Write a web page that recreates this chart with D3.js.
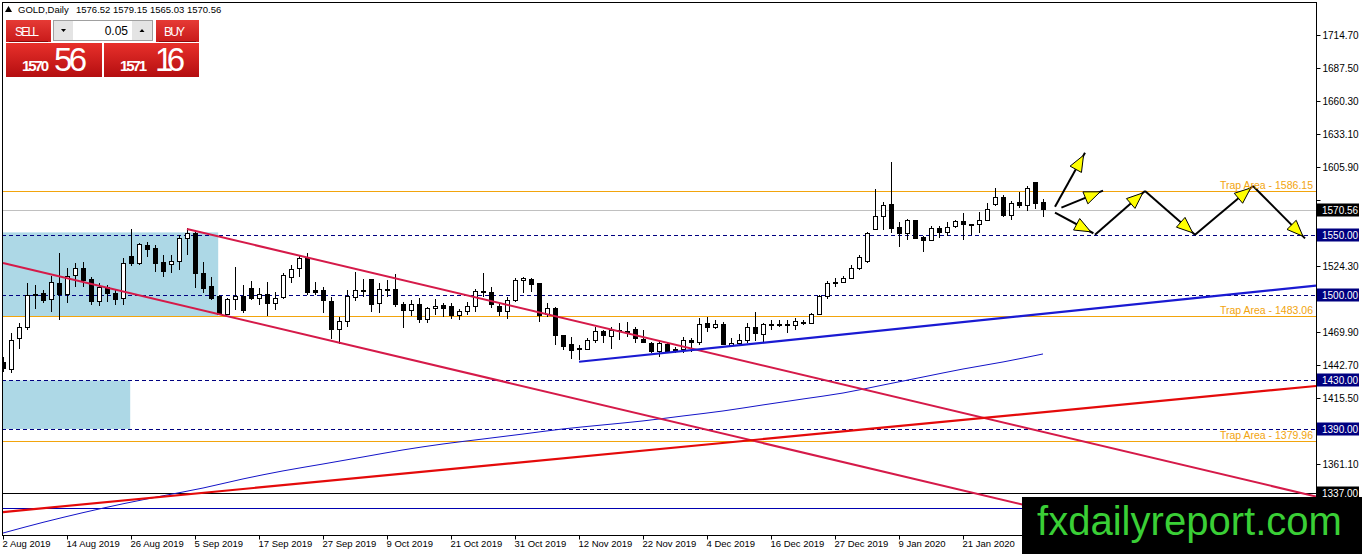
<!DOCTYPE html>
<html>
<head>
<meta charset="utf-8">
<script src="https://cdn.jsdelivr.net/npm/d3@7"></script>
<style>
  body { margin: 0; background: #fff; overflow: hidden; }
</style>
</head>
<body>
<div id="chart"></div>
<script>
// ---- données ----
const dateLabels = ["2 Aug 2019", "14 Aug 2019", "26 Aug 2019", "5 Sep 2019", "17 Sep 2019", "27 Sep 2019",
  "9 Oct 2019", "21 Oct 2019", "31 Oct 2019", "12 Nov 2019", "22 Nov 2019", "4 Dec 2019",
  "16 Dec 2019", "27 Dec 2019", "9 Jan 2020", "21 Jan 2020"]
const dateTicks = [0, 8, 16, 24, 32, 40, 48, 56, 64, 72, 80, 88, 96, 104, 112, 120]

const priceTicks = [1714.70, 1687.50, 1660.30, 1633.10, 1605.90, 1578.70, 1551.50, 1524.30, 1497.10,
  1469.90, 1442.70, 1415.50, 1388.30, 1361.10, 1333.90]

const opens = [1444.6, 1438.6, 1464.7, 1473.7, 1499.6, 1501.8, 1496.9, 1510.1, 1501.2, 1516.1,
  1522.4, 1512.8, 1494.9, 1506.5, 1501.8, 1497.7, 1532.0, 1526.5, 1541.6, 1538.9,
  1527.0, 1525.7, 1527.9, 1547.1, 1551.3, 1518.3, 1507.2, 1499.0, 1484.7, 1496.3,
  1499.0, 1505.9, 1497.7, 1500.4, 1493.5, 1498.5, 1515.0, 1522.4, 1530.7, 1503.7,
  1504.5, 1494.9, 1471.6, 1478.5, 1498.5, 1504.5, 1512.8, 1493.0, 1505.1, 1505.1,
  1492.7, 1487.5, 1492.7, 1480.3, 1489.4, 1491.6, 1491.3, 1483.9, 1486.6, 1491.3,
  1503.2, 1502.6, 1491.3, 1486.6, 1495.7, 1512.0, 1512.8, 1509.5, 1484.7, 1489.4,
  1467.4, 1459.2, 1455.9, 1455.7, 1462.5, 1470.7, 1466.6, 1470.7, 1470.7, 1472.1,
  1463.9, 1460.6, 1453.6, 1459.8, 1455.1, 1455.1, 1462.8, 1461.1, 1476.5, 1473.8,
  1475.7, 1458.6, 1460.6, 1462.8, 1473.8, 1468.0, 1474.9, 1475.7, 1475.7, 1474.9,
  1477.3, 1477.1, 1484.5, 1499.0, 1510.1, 1510.5, 1514.2, 1522.6, 1528.4, 1554.6,
  1565.5, 1574.6, 1556.2, 1551.3, 1561.7, 1547.6, 1545.7, 1555.4, 1551.8, 1556.7,
  1560.8, 1558.1, 1558.1, 1562.2, 1574.6, 1580.9, 1566.3, 1576.5, 1573.8, 1593.0,
  1576.52]
const highs = [1449.0, 1468.8, 1477.1, 1510.5, 1508.7, 1504.5, 1516.1, 1534.8, 1522.4, 1527.1,
  1527.9, 1515.5, 1510.1, 1508.7, 1504.5, 1530.7, 1554.6, 1543.5, 1544.4, 1541.6,
  1533.4, 1533.4, 1549.9, 1555.4, 1554.0, 1527.9, 1515.5, 1500.4, 1497.7, 1523.7,
  1508.7, 1512.0, 1505.9, 1511.4, 1503.2, 1518.3, 1525.1, 1533.4, 1534.8, 1511.4,
  1507.3, 1499.0, 1482.5, 1504.5, 1519.6, 1513.6, 1513.3, 1510.1, 1512.8, 1517.4,
  1494.9, 1496.3, 1497.7, 1490.8, 1496.9, 1494.0, 1493.5, 1488.6, 1494.9, 1505.1,
  1518.3, 1507.3, 1494.0, 1499.0, 1514.2, 1515.5, 1514.2, 1510.1, 1493.5, 1490.8,
  1467.4, 1466.0, 1459.2, 1464.7, 1474.3, 1471.6, 1474.3, 1477.1, 1478.5, 1474.3,
  1471.6, 1461.9, 1463.3, 1460.6, 1457.8, 1465.5, 1464.7, 1481.2, 1482.1, 1479.8,
  1478.5, 1464.7, 1468.3, 1477.7, 1486.6, 1477.7, 1479.4, 1479.8, 1479.8, 1481.2,
  1479.8, 1485.3, 1500.4, 1512.2, 1514.2, 1516.1, 1525.1, 1533.4, 1552.3, 1587.5,
  1577.3, 1610.3, 1560.8, 1562.8, 1562.2, 1549.0, 1557.3, 1557.3, 1560.8, 1562.2,
  1568.2, 1558.9, 1569.1, 1576.0, 1588.3, 1582.8, 1578.1, 1585.6, 1590.3, 1593.8,
  1579.15]
const lows = [1437.0, 1435.9, 1455.6, 1471.6, 1488.6, 1493.5, 1486.6, 1479.8, 1493.5, 1507.2,
  1507.2, 1492.2, 1491.3, 1494.9, 1492.2, 1492.2, 1524.3, 1525.1, 1532.0, 1519.6,
  1515.5, 1518.3, 1521.0, 1533.4, 1506.0, 1501.8, 1496.3, 1483.9, 1483.9, 1488.0,
  1485.3, 1496.3, 1492.2, 1483.1, 1488.0, 1496.9, 1510.5, 1515.5, 1500.4, 1500.4,
  1485.8, 1463.9, 1460.0, 1473.7, 1495.7, 1498.5, 1486.6, 1485.8, 1499.0, 1490.8,
  1472.9, 1483.1, 1477.1, 1477.1, 1483.9, 1482.5, 1480.3, 1479.8, 1483.9, 1486.6,
  1499.0, 1489.4, 1483.1, 1480.3, 1494.9, 1502.4, 1503.2, 1478.5, 1482.5, 1459.2,
  1455.1, 1447.4, 1446.8, 1455.1, 1461.1, 1461.1, 1455.7, 1463.3, 1466.0, 1460.5,
  1460.5, 1452.8, 1449.0, 1452.3, 1452.8, 1452.3, 1453.6, 1459.2, 1470.2, 1472.1,
  1459.2, 1457.8, 1459.2, 1461.1, 1462.5, 1461.1, 1471.6, 1473.8, 1469.3, 1471.6,
  1475.7, 1476.5, 1483.9, 1496.9, 1506.8, 1510.1, 1513.3, 1521.0, 1526.8, 1554.0,
  1554.0, 1551.3, 1539.7, 1545.7, 1546.3, 1536.1, 1545.2, 1547.1, 1549.0, 1555.4,
  1545.7, 1549.9, 1551.3, 1561.7, 1573.8, 1565.0, 1562.2, 1571.9, 1569.9, 1571.0,
  1565.03]
const closes = [1440.0, 1462.7, 1473.7, 1499.6, 1500.5, 1495.7, 1510.9, 1501.0, 1515.5, 1522.4,
  1512.0, 1494.9, 1506.8, 1501.8, 1496.9, 1526.0, 1526.5, 1542.2, 1538.1, 1526.5,
  1519.6, 1528.4, 1547.1, 1551.3, 1518.3, 1506.0, 1497.7, 1484.7, 1496.3, 1499.0,
  1487.5, 1497.7, 1500.4, 1493.5, 1497.7, 1516.1, 1521.6, 1530.7, 1502.4, 1502.4,
  1495.7, 1471.6, 1478.5, 1499.0, 1504.0, 1503.2, 1492.7, 1505.1, 1504.5, 1492.2,
  1488.0, 1492.7, 1480.3, 1489.4, 1491.3, 1489.4, 1483.9, 1487.2, 1491.3, 1503.2,
  1502.6, 1492.2, 1486.6, 1495.7, 1512.2, 1514.2, 1508.7, 1483.9, 1489.4, 1467.4,
  1457.8, 1454.6, 1455.1, 1462.5, 1470.7, 1467.4, 1471.0, 1471.2, 1470.2, 1464.7,
  1461.1, 1453.6, 1460.6, 1453.2, 1453.6, 1462.8, 1461.1, 1476.3, 1473.8, 1475.7,
  1459.8, 1460.6, 1463.3, 1473.8, 1468.8, 1475.7, 1475.7, 1475.4, 1474.9, 1478.5,
  1477.6, 1484.5, 1499.0, 1510.1, 1510.3, 1514.2, 1522.4, 1530.9, 1551.3, 1565.5,
  1573.8, 1555.4, 1551.3, 1561.7, 1547.1, 1545.7, 1555.4, 1551.8, 1556.2, 1560.8,
  1558.1, 1557.9, 1562.2, 1571.0, 1580.9, 1566.3, 1576.0, 1573.8, 1588.3, 1576.0,
  1570.56]

// moyenne mobile (fine ligne bleue)
const maBars = [0, 5, 10, 15, 20, 25, 30, 35, 40, 45, 50, 55, 60, 65, 70, 75, 80, 85, 90, 95,
  100, 105, 110, 115, 120, 125, 130]
const maValues = [1304.2, 1313.0, 1321.0, 1328.3, 1334.9, 1341.3, 1348.8, 1355.4, 1361.1, 1366.9,
  1372.7, 1377.6, 1381.7, 1385.8, 1390.0, 1393.3, 1396.6, 1400.7, 1404.8, 1409.8,
  1414.7, 1419.6, 1426.2, 1432.8, 1439.4, 1445.2, 1451.8]

// niveaux horizontaux
const trapLevels = [1586.15, 1483.06, 1379.96]
const trapTexts = ["Trap Area  - 1586.15", "Trap Area - 1483.06", "Trap Area - 1379.96"]
const dashedLevels = [1550.00, 1500.00, 1430.00, 1390.00]
const bidPrice = 1570.56
const blackLevel = 1337.00
const blueLevel = 1325.0

// zones (barre début, barre fin) et (prix haut, prix bas)
const zoneBars = [[-1, 26.9], [-1, 15.9]]
const zonePrices = [[1552.0, 1483.06], [1430.0, 1390.0]]

// lignes de tendance [barre, prix]
const channelUpper = [[23, 1554.8], [164.125, 1334.3]]
const channelLower = [[0, 1526.8], [164.125, 1270.3]]
const redTrend = [[0, 1321.5], [164.125, 1425.4]]
const blueTrend = [[72, 1445.4], [164.125, 1508.1]]

// flèches du scénario
const arrows = [
  [[131.5, 1573.2], [135.25, 1617.7]],
  [[132.3, 1572.4], [137.5, 1586.4]],
  [[131.5, 1568.2], [136.3, 1551.3]],
  [[136.5, 1550.0], [142.75, 1586.15]],
  [[142.75, 1586.15], [149, 1550.0]],
  [[149, 1550.0], [156.25, 1590.2]],
  [[156.25, 1590.2], [162.75, 1547.1]]
]

const header = ["GOLD,Daily", "1576.52 1579.15 1565.03 1570.56"]

// ---- mise en page ----
const W = 1362, H = 554
const plot = {left: 2, top: 2, right: 1316, bottom: 535}
const orange = "#F2A40C"

const x = d3.scaleLinear().domain([0, 164.125]).range([3, plot.right])
const y = d3.scaleLinear().domain([1302.58, 1741.9]).range([plot.bottom, plot.top])

const svg = d3.select("#chart")
  .append("svg")
  .attr("width", W)
  .attr("height", H)
  .style("font-family", '"Liberation Sans", Arial, sans-serif')

svg.append("rect").attr("width", W).attr("height", H).attr("fill", "#fff")

const defs = svg.append("defs")
defs.append("clipPath").attr("id", "plotClip")
  .append("rect")
  .attr("x", plot.left).attr("y", plot.top)
  .attr("width", plot.right - plot.left).attr("height", plot.bottom - plot.top)

const g = svg.append("g").attr("clip-path", "url(#plotClip)")

// zones bleu clair
g.selectAll("rect.zone")
  .data(zoneBars)
  .join("rect")
  .attr("class", "zone")
  .attr("x", d => x(d[0]))
  .attr("width", d => x(d[1]) - x(d[0]))
  .attr("y", (d, i) => y(zonePrices[i][0]))
  .attr("height", (d, i) => y(zonePrices[i][1]) - y(zonePrices[i][0]))
  .attr("fill", "#ADD8E6")

// lignes horizontales
const py = v => Math.round(y(v)) + 0.5

g.selectAll("line.trap")
  .data(trapLevels)
  .join("line")
  .attr("x1", plot.left).attr("x2", plot.right)
  .attr("y1", py).attr("y2", py)
  .attr("stroke", orange).attr("stroke-width", 1)

g.selectAll("line.dash")
  .data(dashedLevels)
  .join("line")
  .attr("x1", plot.left).attr("x2", plot.right)
  .attr("y1", py).attr("y2", py)
  .attr("stroke", "#000080").attr("stroke-width", 1).attr("stroke-dasharray", "4,3")

g.append("line")
  .attr("x1", plot.left).attr("x2", plot.right)
  .attr("y1", py(bidPrice)).attr("y2", py(bidPrice))
  .attr("stroke", "#C0C0C0")

g.append("line")
  .attr("x1", plot.left).attr("x2", plot.right)
  .attr("y1", py(blackLevel)).attr("y2", py(blackLevel))
  .attr("stroke", "#000")

g.append("line")
  .attr("x1", plot.left).attr("x2", plot.right)
  .attr("y1", py(blueLevel)).attr("y2", py(blueLevel))
  .attr("stroke", "#0000B0")

// moyenne mobile
g.append("path")
  .datum(maBars.map((b, i) => [b, maValues[i]]))
  .attr("fill", "none")
  .attr("stroke", "#1414C8")
  .attr("stroke-width", 1)
  .attr("d", d3.line().x(d => x(d[0])).y(d => y(d[1])).curve(d3.curveMonotoneX))

// bougies
const candles = d3.range(opens.length).map(i => ({i: i, o: opens[i], h: highs[i], l: lows[i], c: closes[i]}))

const cg = g.append("g").attr("shape-rendering", "crispEdges")
cg.selectAll("line.wick")
  .data(candles)
  .join("line")
  .attr("x1", d => Math.round(x(d.i)) + 0.5).attr("x2", d => Math.round(x(d.i)) + 0.5)
  .attr("y1", d => y(d.h)).attr("y2", d => y(d.l))
  .attr("stroke", "#000")

cg.selectAll("rect.body")
  .data(candles)
  .join("rect")
  .attr("x", d => Math.round(x(d.i)) - 1.5)
  .attr("width", 4)
  .attr("y", d => y(Math.max(d.o, d.c)))
  .attr("height", d => Math.max(1, Math.abs(y(d.o) - y(d.c))))
  .attr("fill", d => d.c >= d.o ? "#fff" : "#000")
  .attr("stroke", "#000")

// lignes de tendance
const seg = d3.line().x(d => x(d[0])).y(d => y(d[1]))
const trends = [
  {pts: channelUpper, color: "#D51A49", w: 2},
  {pts: channelLower, color: "#D51A49", w: 2},
  {pts: redTrend, color: "#E40A0A", w: 2.2},
  {pts: blueTrend, color: "#1A1AD2", w: 2.2}
]
g.selectAll("path.trend")
  .data(trends)
  .join("path")
  .attr("d", d => seg(d.pts))
  .attr("fill", "none")
  .attr("stroke", d => d.color)
  .attr("stroke-width", d => d.w)

// flèches
arrows.forEach(a => {
  const x1 = x(a[0][0]), y1 = y(a[0][1]), x2 = x(a[1][0]), y2 = y(a[1][1])
  g.append("line")
    .attr("x1", x1).attr("y1", y1).attr("x2", x2).attr("y2", y2)
    .attr("stroke", "#000").attr("stroke-width", 2)
  const len = Math.hypot(x2 - x1, y2 - y1)
  const ux = (x2 - x1) / len, uy = (y2 - y1) / len
  const tx = x2 - ux * 3, ty = y2 - uy * 3
  const bx = tx - ux * 16, by = ty - uy * 16
  const px = -uy * 6.5, pyy = ux * 6.5
  g.append("path")
    .attr("d", `M${tx},${ty}L${bx + px},${by + pyy}L${bx - px},${by - pyy}Z`)
    .attr("fill", "#FFFF00")
    .attr("stroke", "#000")
    .attr("stroke-width", 1)
})

// textes "Trap Area"
g.selectAll("text.trap")
  .data(trapLevels)
  .join("text")
  .attr("x", plot.right - 3)
  .attr("y", d => y(d) - 2)
  .attr("text-anchor", "end")
  .attr("font-size", 10.5)
  .attr("fill", orange)
  .text((d, i) => trapTexts[i])

// cadre
svg.append("rect")
  .attr("x", plot.left + 0.5).attr("y", plot.top + 0.5)
  .attr("width", plot.right - plot.left).attr("height", plot.bottom - plot.top)
  .attr("fill", "none").attr("stroke", "#000")

// étiquettes de prix sur l'axe (niveaux)
const tags = dashedLevels.map(v => ({v: v, bg: "#000080"}))
  .concat([{v: bidPrice, bg: "#000"}, {v: blackLevel, bg: "#000"}])

// axe des prix : on masque les graduations cachées sous une étiquette
const hidden = v => tags.some(t => Math.abs(y(t.v) - y(v)) < 10)
const yAxis = svg.append("g")
  .attr("transform", `translate(${plot.right + 0.5},0)`)
  .call(d3.axisRight(y).tickValues(priceTicks).tickSize(4)
    .tickFormat(d => hidden(d) ? "" : d3.format(".2f")(d)))
yAxis.select(".domain").remove()
yAxis.selectAll("text").attr("font-size", 10).attr("font-family", '"Liberation Sans", Arial, sans-serif').attr("fill", "#000").attr("x", 6)
yAxis.selectAll("line").attr("stroke", "#000")

// axe du temps
const xAxis = svg.append("g")
  .attr("transform", `translate(0,${plot.bottom + 0.5})`)
  .call(d3.axisBottom(x).tickValues(dateTicks).tickSize(4).tickFormat((d, i) => dateLabels[i]))
xAxis.select(".domain").remove()
xAxis.selectAll("text")
  .attr("font-size", 9.5)
  .attr("font-family", '"Liberation Sans", Arial, sans-serif')
  .attr("fill", "#000")
  .attr("text-anchor", "start")
  .attr("dx", -1)
  .attr("y", 5)
xAxis.selectAll("line").attr("stroke", "#000")

const tg = svg.selectAll("g.tag")
  .data(tags)
  .join("g")
  .attr("transform", d => `translate(${plot.right + 1},${Math.round(y(d.v))})`)
tg.append("rect")
  .attr("x", 0).attr("y", -6.5).attr("width", 42).attr("height", 13)
  .attr("fill", d => d.bg)
tg.append("text")
  .attr("x", 5).attr("y", 4)
  .attr("font-size", 10)
  .attr("fill", "#fff")
  .text(d => d3.format(".2f")(d.v))

// en-tête
svg.append("path").attr("d", "M5,12L8.5,6L12,12Z").attr("fill", "#000")
svg.append("text").attr("x", 18).attr("y", 13).attr("font-size", 9.5).text(header[0])
svg.append("text").attr("x", 76).attr("y", 13).attr("font-size", 9.5).text(header[1])

// panneau SELL / BUY
const grad = defs.append("linearGradient").attr("id", "redGrad").attr("x1", 0).attr("x2", 0).attr("y1", 0).attr("y2", 1)
grad.append("stop").attr("offset", "0%").attr("stop-color", "#E8302B")
grad.append("stop").attr("offset", "100%").attr("stop-color", "#B40E10")
const grad2 = defs.append("linearGradient").attr("id", "btnGrad").attr("x1", 0).attr("x2", 0).attr("y1", 0).attr("y2", 1)
grad2.append("stop").attr("offset", "0%").attr("stop-color", "#E63A35")
grad2.append("stop").attr("offset", "100%").attr("stop-color", "#C81A1A")

const panel = svg.append("g")
panel.append("rect").attr("x", 6).attr("y", 20).attr("width", 45).attr("height", 22).attr("fill", "url(#btnGrad)")
panel.append("rect").attr("x", 156).attr("y", 20).attr("width", 43).attr("height", 22).attr("fill", "url(#btnGrad)")
panel.append("line").attr("x1", 9).attr("x2", 48).attr("y1", 41.5).attr("y2", 41.5).attr("stroke", "#8A0A0A")
panel.append("line").attr("x1", 159).attr("x2", 196).attr("y1", 41.5).attr("y2", 41.5).attr("stroke", "#8A0A0A")
panel.append("rect").attr("x", 6).attr("y", 43).attr("width", 96).attr("height", 34).attr("fill", "url(#redGrad)")
panel.append("rect").attr("x", 104).attr("y", 43).attr("width", 95).attr("height", 34).attr("fill", "url(#redGrad)")

// spin
panel.append("rect").attr("x", 53.5).attr("y", 20.5).attr("width", 99).attr("height", 20).attr("fill", "#fff").attr("stroke", "#A0A0A0")
panel.append("rect").attr("x", 54).attr("y", 21).attr("width", 19).attr("height", 19).attr("fill", "#E4E4E4")
panel.append("rect").attr("x", 132).attr("y", 21).attr("width", 20).attr("height", 19).attr("fill", "#E4E4E4")
panel.append("path").attr("d", "M61,29L66,29L63.5,32Z").attr("fill", "#000")
panel.append("path").attr("d", "M139.5,32L144.5,32L142,29Z").attr("fill", "#000")
panel.append("text").attr("x", 128).attr("y", 35).attr("text-anchor", "end").attr("font-size", 12).text("0.05")

panel.append("text").attr("x", 15).attr("y", 36).attr("font-size", 12).attr("fill", "#fff").attr("textLength", 24).text("SELL")
panel.append("text").attr("x", 164).attr("y", 36).attr("font-size", 12).attr("fill", "#fff").attr("textLength", 21).text("BUY")
panel.append("text").attr("x", 22).attr("y", 71).attr("font-size", 15).attr("font-weight", "bold").attr("fill", "#fff").attr("textLength", 27).text("1570")
panel.append("text").attr("x", 54).attr("y", 71).attr("font-size", 33).attr("fill", "#fff").attr("textLength", 33).text("56")
panel.append("text").attr("x", 120).attr("y", 71).attr("font-size", 15).attr("font-weight", "bold").attr("fill", "#fff").attr("textLength", 27).text("1571")
panel.append("text").attr("x", 155).attr("y", 71).attr("font-size", 33).attr("fill", "#fff").attr("textLength", 30).text("16")

// filigrane
svg.append("rect").attr("x", 1022).attr("y", 497).attr("width", 340).attr("height", 57).attr("fill", "#000")
svg.append("text")
  .attr("x", 1037).attr("y", 535)
  .attr("font-size", 40)
  .attr("fill", "#3ACF36")
  .attr("textLength", 305)
  .attr("lengthAdjust", "spacingAndGlyphs")
  .text("fxdailyreport.com")
</script>
</body>
</html>
